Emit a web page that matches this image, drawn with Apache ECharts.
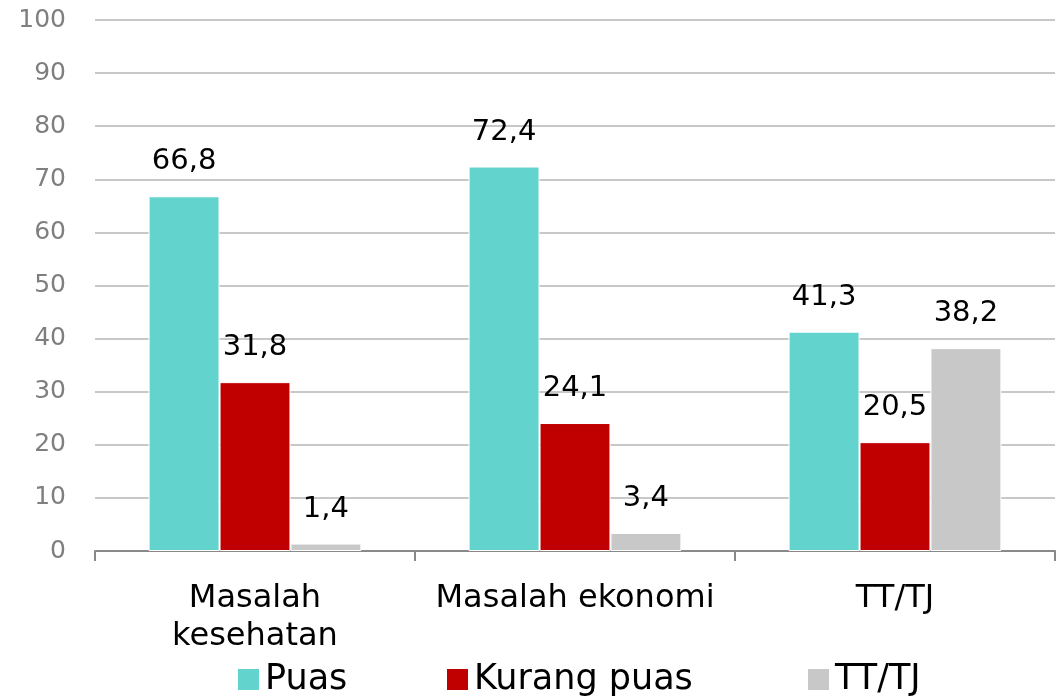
<!DOCTYPE html>
<html>
<head>
<meta charset="utf-8">
<script src="https://cdn.jsdelivr.net/npm/echarts@6/dist/echarts.min.js"></script>
<style>
  html, body { margin: 0; padding: 0; background: #fff; }
  #chart { width: 1061px; height: 700px; }
</style>
</head>
<body>
<div id="chart"></div>
<script>
// Survey responses by category (percent)
const categories = ['Masalah\nkesehatan', 'Masalah ekonomi', 'TT/TJ'];
const seriesNames = ['Puas', 'Kurang puas', 'TT/TJ'];
const puas = [66.8, 72.4, 41.3];
const kurangPuas = [31.8, 24.1, 20.5];
const ttTj = [1.4, 3.4, 38.2];
const yTicks = [0, 10, 20, 30, 40, 50, 60, 70, 80, 90, 100];

const colors = ['#62d3cd', '#c00000', '#c8c8c8'];
const FONT = 'DejaVu Sans';

const chart = echarts.init(document.getElementById('chart'), null, { renderer: 'canvas' });

function barSeries(name, data, color) {
  return {
    name: name,
    type: 'bar',
    data: data,
    barGap: '0%',
    barCategoryGap: '33.5%',
    itemStyle: { color: color, borderColor: '#ffffff', borderWidth: 1 },
    label: {
      show: true,
      position: 'top',
      distance: 20,
      color: '#000000',
      fontFamily: FONT,
      fontSize: 29,
      formatter: p => String(p.value).replace('.', ',')
    }
  };
}

function legendAt(left, name) {
  return {
    left: left,
    top: 657,
    data: [name],
    itemWidth: 23,
    itemHeight: 23,
    itemGap: 0,
    icon: 'rect',
    textStyle: { fontFamily: FONT, fontSize: 35, color: '#000000', padding: [0, 0, 0, 0] }
  };
}

chart.setOption({
  animation: false,
  color: colors,
  legend: [
    legendAt(231, seriesNames[0]),
    legendAt(440, seriesNames[1]),
    legendAt(801, seriesNames[2])
  ],
  grid: { left: 95, right: 6, top: 20, bottom: 149, containLabel: false },
  xAxis: {
    type: 'category',
    data: categories,
    axisLine: { lineStyle: { color: '#898989', width: 2 } },
    axisTick: { show: true, length: 10, lineStyle: { color: '#898989', width: 2 } },
    axisLabel: {
      color: '#000000',
      fontFamily: FONT,
      fontSize: 32,
      lineHeight: 38,
      margin: 29,
      interval: 0
    }
  },
  yAxis: {
    type: 'value',
    min: yTicks[0],
    max: yTicks[yTicks.length - 1],
    interval: 10,
    axisLine: { show: false },
    axisTick: { show: false },
    splitLine: { lineStyle: { color: '#c8c8c8', width: 2 } },
    axisLabel: {
      color: '#7f7f7f',
      fontFamily: FONT,
      fontSize: 25,
      margin: 29
    }
  },
  series: [
    barSeries(seriesNames[0], puas, colors[0]),
    barSeries(seriesNames[1], kurangPuas, colors[1]),
    barSeries(seriesNames[2], ttTj, colors[2])
  ]
});
</script>
</body>
</html>
